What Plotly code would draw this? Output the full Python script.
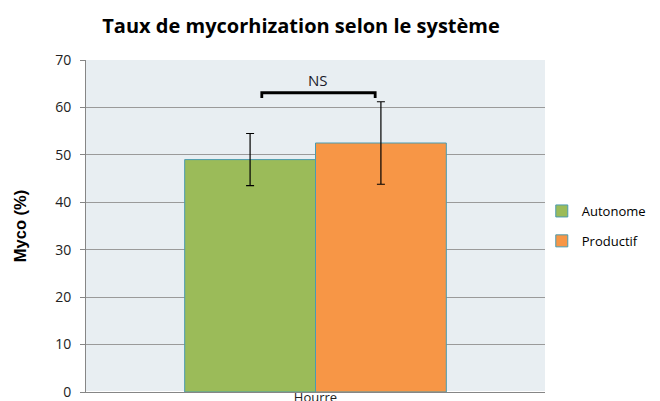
import plotly.graph_objects as go

categories = ["Hourre"]
series_names = ["Autonome", "Productif"]
myco_values = [[49.0], [52.5]]
myco_errors = [[5.5], [8.7]]
colors = ["#9BBB59", "#F79646"]
# significance bracket between the two bars (x in group units, y in %)
bracket_x = [-0.117, -0.117, 0.13, 0.13]
bracket_y = [62.0, 63.1, 63.1, 62.0]
ns_label = "NS"

fig = go.Figure()
for name, vals, errs, col in zip(series_names, myco_values, myco_errors, colors):
    fig.add_trace(go.Bar(
        x=categories, y=vals, name=name, legendgroup=name,
        marker=dict(color=col, line=dict(color="#4A9BB0", width=1)),
        error_y=dict(type="data", array=errs, color="black", thickness=1.2, width=4),
    ))

fig.add_trace(go.Scatter(
    x=bracket_x, y=bracket_y, xaxis="x2", mode="lines",
    line=dict(color="black", width=2.8), showlegend=False, hoverinfo="skip",
))
fig.add_annotation(x=0.005, y=65.8, xref="x2", yref="y", text=ns_label, showarrow=False,
                   font=dict(family="Open Sans", size=15, color="#1a1a2a"))

# the page body adds an 8px offset, margins are set with that in mind
fig.update_layout(
    width=660, height=401,
    margin=dict(l=78, r=123, t=52, b=17),
    title=dict(text="<b>Taux de mycorhization selon le système</b>", x=0.444, y=0.955,
               xanchor="center", yanchor="middle",
               font=dict(family="Open Sans", size=20, color="black")),
    plot_bgcolor="#E8EEF2", paper_bgcolor="white",
    barmode="group", bargap=0.43, bargroupgap=0,
    legend=dict(x=0.993, y=0.50, xanchor="left", yanchor="middle", bgcolor="rgba(0,0,0,0)",
                font=dict(family="Open Sans", size=13, color="black"),
                tracegroupgap=10, itemwidth=30),
    font=dict(family="Open Sans", color="#222"),
    xaxis=dict(showline=True, linecolor="#868686", linewidth=1, ticks="", automargin=False,
               ticklabelstandoff=-7, tickfont=dict(size=13, family="Open Sans")),
    xaxis2=dict(overlaying="x", range=[-0.5, 0.5], visible=False),
    yaxis=dict(range=[0, 70], dtick=10, showgrid=True, gridcolor="#9A9A9A", gridwidth=1,
               showline=True, linecolor="#868686", ticks="outside", ticklen=5, tickcolor="#868686",
               automargin=False, ticklabelstandoff=6,
               tickfont=dict(size=14, family="Open Sans", color="#222"),
               title=dict(text="<b>Myco (%)</b>", font=dict(size=16.5, family="Liberation Sans", color="black"),
                          standoff=24)),
)

fig.write_html("out.html")
